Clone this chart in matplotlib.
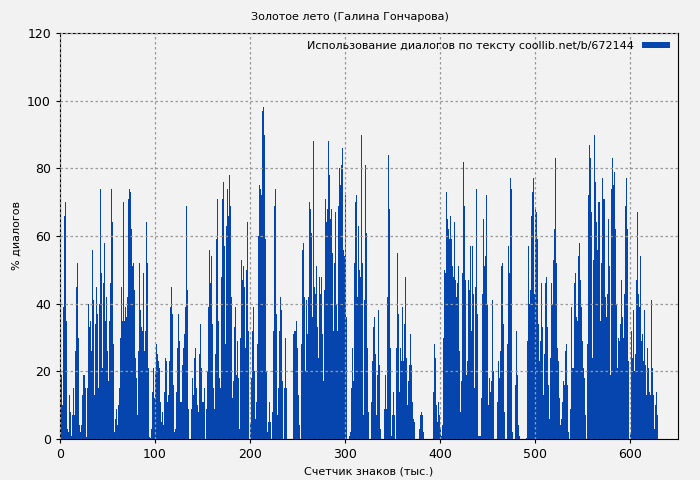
import numpy as np
import matplotlib
matplotlib.use("Agg")
import matplotlib.pyplot as plt

title = "Золотое лето (Галина Гончарова)"
legend_label = "Использование диалогов по тексту coollib.net/b/672144"
x_label = "Счетчик знаков (тыс.)"
y_label = "% диалогов"

seg1 = [25,19,10,39,66,70,35,3,2,13,8,1,7,15,7,26,45,52,30,4,2,4,13,19,19,15,0.5,15,40,33,35,26,56,41,13,34,45,37,15,40,74,49,21,46,58,35,42,26,17,35,46,74,64,28,2,6,9,4,10,15,30,45,35,70,35,39,36,42,71,74,73,62,51,52,44,24,18,7,26,52,38,33,32,49,26,32,64,52,21,0.5,0.2,3,14,21,12,20,28,25,23,21,11,5,8,4,14,24,23,11,13,23,39,45,37,16,2,3,14,27,37,29,11,11,22,27,31,39,69,44,9,0,0,9,18,13,24,27,15,10,8,25,34,21,11,11]
seg2 = [15,0,9,20,39,56,46,54,34,15,9,25,59,71,35,18,15,48,71,76,57,28,63,74,66,78,69,42,12,17,33,39,19,29,18,3,30,53,47,51,45,27,50,64,32,0,5,18,32,39,20,6,11,28,60,75,74,72,97,98,90,59,20,2,5,11,5,0,8,32,69,74,37,7,15,32,42,38,17,0,15,30,15,0,0,0,0,0,0,31,32,32,35,27,13,4,0,28,56,58,42,20,41,31,42,70,68,61,36,88,45,43,51,33,24,48,43,48,31,17,44,71,64,68,88,78,65,68,55,32,52,67,40,32,69,80,75,81,86,56,54,72,36,0,0,1,2,15,27,17,52,70,72,42]
seg3 = [63,50,48,90,52,7,41,81,61,27,8,0,0,11,23,33,36,25,7,19,38,22,3,0,0,0,9,19,9,42,84,68,27,1,7,14,7,0,27,55,37,14,27,23,39,23,34,48,24,10,17,22,31,22,11,6,5,0,0,0,0,3,7,8,7,2,0,0,0,0,0,0,0,0,0,14,28,24,10,5,11,7,3,1,4,30,50,49,73,65,62,59,66,59,51,48,64,47,42,46,51,26,8,17,49,82,69,47,19,23,47,44,57,32,57,43,15,45,74,37,1,1,1,12,43,65,51,54,72,40,10,18,14,17,41,20,0,0,0,11,23,18,26,51,52,34,8,0,0,28,57,49,77,74,2]
seg4 = [0,0,16,32,19,4,1,0,0,0,0,0,0,0.2,29,57,40,44,66,73,77,43,68,67,59,34,23,29,46,33,13,25,46,48,33,16,6,24,46,40,53,62,83,52,27,23,12,4,6,11,17,16,26,28,16,2,0,9,39,21,21,46,49,36,35,54,58,47,39,29,21,18,7,0,28,72,87,83,67,24,53,90,76,64,56,70,70,35,52,77,71,71,42,36,43,65,51,19,74,83,75,79,62,40,21,30,29,34,47,36,30,43,69,77,62,23,0,2,32,24,38,20,25,47,67,43,39,54,29,31,23,38,22,13,27,21,14,13,41,21,13,3,10,14,7]

dialog = np.array(seg1 + seg2 + seg3 + seg4, dtype=float)
step = 1.0 / 0.95
chars = np.arange(len(dialog)) * step

bg = "#f2f2f2"
color = "#0645ad"
fig = plt.figure(figsize=(7, 4.8), dpi=100, facecolor=bg)
ax = fig.add_axes([60/700, 1 - 439/480, 618/700, 406/480], facecolor=bg)
ax.bar(chars, dialog, width=step, align="edge", color=color, linewidth=0, label=legend_label)
ax.set_xlim(0, 650)
ax.set_ylim(0, 120)
ax.set_xticks(np.arange(0, 601, 100))
ax.set_yticks(np.arange(0, 121, 20))
ax.grid(True, color="#999999", linestyle=(0, (2, 2)), linewidth=0.9)
ax.set_axisbelow(False)
ax.tick_params(labelsize=9, length=3)
ax.set_xlabel(x_label, fontsize=8)
ax.set_ylabel(y_label, fontsize=8)
fig.suptitle(title, fontsize=8, y=0.975)
leg = ax.legend(loc="upper right", frameon=False, markerfirst=False, fontsize=8,
                handlelength=2.5, handleheight=0.4, borderaxespad=0.3)
fig.savefig("out.png", dpi=100, facecolor=bg)
